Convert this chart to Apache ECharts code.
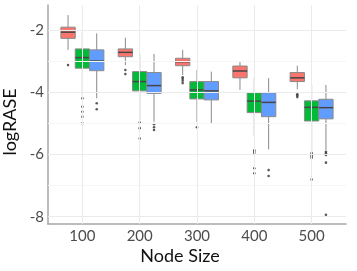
<!DOCTYPE html>
<html><head><meta charset="utf-8">
<script src="https://cdn.jsdelivr.net/npm/echarts@6/dist/echarts.min.js"></script>
<style>html,body{margin:0;padding:0;background:#fff}#c{width:357px;height:271px}</style>
</head><body><div id="c"></div>
<script>
// Categories (node sizes)
const categories = ['100', '200', '300', '400', '500'];
// Box statistics per group: [min whisker, Q1, median, Q3, max whisker]
const redBoxes = [
  [-2.63, -2.26, -2.06, -1.90, -1.51],
  [-3.12, -2.85, -2.71, -2.60, -2.24],
  [-3.44, -3.14, -3.01, -2.90, -2.63],
  [-3.92, -3.53, -3.31, -3.15, -2.99],
  [-3.90, -3.65, -3.53, -3.36, -3.14]
];
const greenBoxes = [
  [-4.08, -3.22, -2.88, -2.60, -2.06],
  [-4.89, -3.95, -3.65, -3.33, -2.76],
  [-4.95, -4.21, -3.92, -3.65, -3.28],
  [-5.40, -4.65, -4.28, -4.01, -3.54],
  [-5.90, -4.92, -4.48, -4.27, -3.76]
];
const blueBoxes = [
  [-4.19, -3.30, -2.99, -2.63, -2.10],
  [-4.94, -4.03, -3.78, -3.36, -2.76],
  [-4.99, -4.24, -3.95, -3.65, -3.33],
  [-5.83, -4.78, -4.32, -4.01, -3.54],
  [-5.85, -4.85, -4.49, -4.22, -3.76]
];
// Outliers per category
const redOutliers = [[-3.12], [-3.28, -3.41], [-3.51, -3.56, -3.62, -3.70], [], [-4.06, -4.10, -4.15]];
const greenOutliers = [[-4.19, -4.46, -4.62, -4.78, -4.99], [-4.97, -5.15, -5.48], [-5.12], [-5.86, -5.92, -5.98, -6.44, -6.60], [-5.95, -6.00, -6.05, -6.10, -6.80]];
const blueOutliers = [[-4.35, -4.54], [-5.02, -5.12, -5.21], [], [-6.50, -6.69], [-5.91, -5.96, -6.01, -6.26, -7.94]];
// Tick labels
const yTicks = [-8, -6, -4, -2];
const yMinorTicks = [-7, -5, -3];

const groups = [
  { name: 'red', boxes: redBoxes, outliers: redOutliers, color: '#F8766D', offset: -0.25 },
  { name: 'green', boxes: greenBoxes, outliers: greenOutliers, color: '#00BA38', offset: 0 },
  { name: 'blue', boxes: blueBoxes, outliers: blueOutliers, color: '#619CFF', offset: 0.25 }
];
const xPos = categories.map((c, i) => i + 1);
const BOXW = 0.25;

function boxSeries(g) {
  return {
    type: 'custom', name: g.name, z: 3,
    data: g.boxes.map((b, i) => [xPos[i]].concat(b)),
    encode: { x: 0, y: [1, 2, 3, 4, 5] },
    renderItem(params, api) {
      const x = api.value(0) + g.offset;
      const lo = api.coord([x, api.value(1)]);
      const q1 = api.coord([x, api.value(2)]);
      const md = api.coord([x, api.value(3)]);
      const q3 = api.coord([x, api.value(4)]);
      const hi = api.coord([x, api.value(5)]);
      const w = api.size([BOXW, 0])[0];
      const cx = lo[0];
      const wl = { stroke: '#8a8a8a', lineWidth: 1 };
      return { type: 'group', children: [
        { type: 'line', shape: { x1: cx, y1: hi[1], x2: cx, y2: q3[1] }, style: wl },
        { type: 'line', shape: { x1: cx, y1: q1[1], x2: cx, y2: lo[1] }, style: wl },
        { type: 'rect', shape: { x: cx - w / 2, y: q3[1], width: w, height: q1[1] - q3[1] }, style: { fill: g.color, stroke: '#8a8a8a', lineWidth: 1 } },
        { type: 'line', shape: { x1: cx - w / 2, y1: md[1], x2: cx + w / 2, y2: md[1] }, style: { stroke: '#464646', lineWidth: 1.5 } }
      ] };
    }
  };
}
function outlierSeries(g) {
  const data = [];
  g.outliers.forEach((arr, i) => arr.forEach(v => data.push([xPos[i] + g.offset, v])));
  return { type: 'scatter', z: 4, data, symbolSize: 2.6, itemStyle: { color: '#333' }, silent: true };
}

const gridSeries = {
  type: 'scatter', data: [], z: 1, silent: true,
  markLine: {
    silent: true, symbol: 'none', label: { show: false }, animation: false,
    data: [
      ...yTicks.map(v => ({ yAxis: v, lineStyle: { color: '#ebebeb', width: 1, type: 'solid' } })),
      ...yMinorTicks.map(v => ({ yAxis: v, lineStyle: { color: '#f6f6f6', width: 1, type: 'solid' } })),
      ...xPos.map(v => ({ xAxis: v, lineStyle: { color: '#ebebeb', width: 1, type: 'solid' } }))
    ]
  }
};

const chart = echarts.init(document.getElementById('c'), null, { renderer: 'canvas' });
chart.setOption({
  animation: false,
  grid: { left: 48, right: 11, top: 5, bottom: 47 },
  xAxis: {
    type: 'value', min: 0.4, max: 5.6,
    axisLine: { show: true, lineStyle: { color: '#a6a6a6', width: 1.5 } },
    axisTick: { show: false, customValues: xPos },
    splitLine: { show: false },
    axisLabel: { customValues: xPos, formatter: v => categories[Math.round(v) - 1], color: '#4d4d4d', fontSize: 15, fontFamily: 'Lato', margin: 5 }
  },
  yAxis: {
    type: 'value', min: -8.234, max: -1.186,
    axisLine: { show: true, lineStyle: { color: '#a6a6a6', width: 1.5 } },
    axisTick: { show: false, customValues: yTicks },
    splitLine: { show: false },
    axisLabel: { customValues: yTicks, color: '#4d4d4d', fontSize: 15, fontFamily: 'Lato', margin: 4 }
  },
  graphic: [
    { type: 'text', x: 180, y: 256, style: { text: 'Node Size', font: '18px Lato', fill: '#111', align: 'center', verticalAlign: 'middle' } },
    { type: 'text', x: 10, y: 122, rotation: Math.PI / 2, style: { text: 'logRASE', font: '18px Lato', fill: '#111', align: 'center', verticalAlign: 'middle' } }
  ],
  series: [gridSeries].concat(groups.map(boxSeries), groups.map(outlierSeries))
});
</script>
</body></html>
